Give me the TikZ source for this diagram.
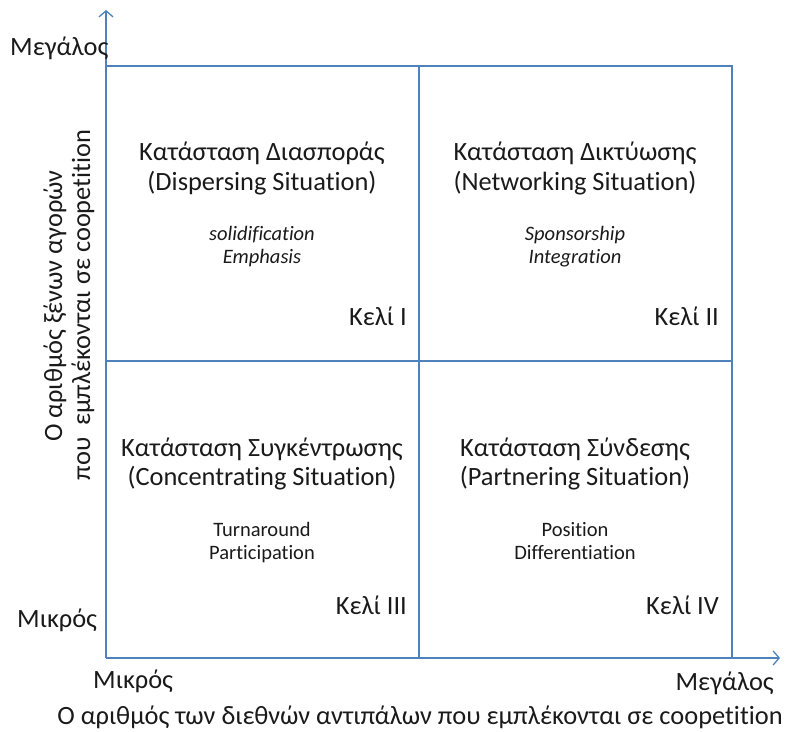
\documentclass[tikz,border=0pt]{standalone}
\usepackage{fontspec}
\setmainfont[Ligatures=NoCommon]{Carlito}
\usetikzlibrary{arrows.meta}
\definecolor{axisblue}{HTML}{4F81BD}
\definecolor{txt}{HTML}{1A1A1A}
\tikzset{
  gridline/.style={draw=axisblue, line width=1.3pt},
  axisline/.style={draw=axisblue, line width=1.3pt, -{Straight Barb[length=6pt,width=14pt,line width=1.3pt]}},
  lbl/.style={inner sep=0pt, anchor=base, text=txt, font=\fontsize{26.4}{32}\selectfont},
  title/.style={inner sep=0pt, anchor=base, text=txt, font=\fontsize{26.4}{32}\selectfont},
  sub/.style={inner sep=0pt, anchor=base, text=txt, font=\fontsize{20.5}{25}\selectfont},
  subit/.style={sub, font=\fontsize{20.5}{25}\selectfont\itshape},
  cell/.style={inner sep=0pt, anchor=base east, text=txt, font=\fontsize{26.4}{32}\selectfont},
}
\begin{document}
\begin{tikzpicture}[x=1pt,y=-1pt]
\useasboundingbox (0,0) rectangle (791,731);
% frame
\coordinate (O) at (106,658);
\coordinate (TL) at (106,66);
\coordinate (TR) at (732,66);
\coordinate (BR) at (732,658);
\coordinate (MT) at (419,66);
\coordinate (MB) at (419,658);
\coordinate (ML) at (106,361);
\coordinate (MR) at (732,361);
\coordinate (Ytip) at (106,10);
\coordinate (Xtip) at (780,658);
\draw[gridline] (TL) -- (TR) -- (BR);
\draw[gridline] (MT) -- (MB);
\draw[gridline] (ML) -- (MR);
\draw[axisline] (O) -- (Ytip);
\draw[axisline] (O) -- (Xtip);
% axis labels
\node[lbl, anchor=base west] (ybig) at (10,55) {Μεγάλος};
\node[lbl, anchor=base west] (ysmall) at (17,627) {Μικρός};
\node[lbl, anchor=base west] (xsmall) at (93,688) {Μικρός};
\node[lbl, anchor=base east] (xbig) at (774,690) {Μεγάλος};
\node[lbl] (xlab) at (420,724) {Ο αριθμός των διεθνών αντιπάλων που εμπλέκονται σε coopetition};
\node[lbl, rotate=90] (ylab1) at (62,306) {Ο αριθμός ξένων αγορών};
\node[lbl, rotate=90] (ylab2) at (90,305) {που\ \ εμπλέκονται σε coopetition};
% cell I
\node[title] (t1a) at (262,160) {Κατάσταση Διασποράς};
\node[title] (t1b) at (262,190) {(Dispersing Situation)};
\node[subit] (s1a) at (262,240) {solidification};
\node[subit] (s1b) at (262,263) {Emphasis};
\node[cell] (c1) at (407,325) {Κελί I};
% cell II
\node[title] (t2a) at (575,160) {Κατάσταση Δικτύωσης};
\node[title] (t2b) at (575,190) {(Networking Situation)};
\node[subit] (s2a) at (575,240) {Sponsorship};
\node[subit] (s2b) at (575,263) {Integration};
\node[cell] (c2) at (719,325) {Κελί II};
% cell III
\node[title] (t3a) at (262,456) {Κατάσταση Συγκέντρωσης};
\node[title] (t3b) at (262,485) {(Concentrating Situation)};
\node[sub] (s3a) at (262,536) {Turnaround};
\node[sub] (s3b) at (262,559) {Participation};
\node[cell] (c3) at (407,614) {Κελί III};
% cell IV
\node[title] (t4a) at (575,456) {Κατάσταση Σύνδεσης};
\node[title] (t4b) at (575,485) {(Partnering Situation)};
\node[sub] (s4a) at (575,536) {Position};
\node[sub] (s4b) at (575,559) {Differentiation};
\node[cell] (c4) at (719,614) {Κελί IV};
\end{tikzpicture}
\end{document}
